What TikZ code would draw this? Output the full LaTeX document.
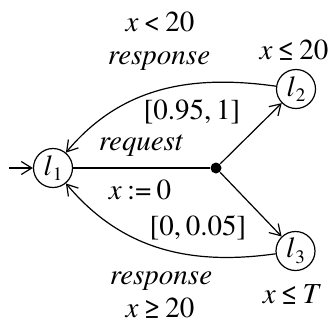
\documentclass[tikz,border=0pt]{standalone}
\usepackage{fontspec}
\setmainfont{texgyretermes}[Extension=.otf,UprightFont=*-regular,ItalicFont=*-italic,BoldFont=*-bold,BoldItalicFont=*-bolditalic]
\usetikzlibrary{arrows.meta}
\newcommand{\locname}[1]{\textit{l}\kern1pt\raisebox{-0.2em}{\fontsize{19}{21}\selectfont #1}}
\newcommand{\rel}[1]{\hspace{0.18em}#1\hspace{0.18em}}
\tikzset{
  locstate/.style={circle,draw,line width=1.2pt,minimum size=39pt,inner sep=0pt},
  lbl/.style={inner sep=0pt},
  tip/.style={-{Straight Barb[length=10.5pt,width=13pt,line width=1.2pt]}},
  joint/.style={circle,fill,inner sep=0pt,minimum size=11pt}
}
\begin{document}
\begin{tikzpicture}[x=1pt,y=1pt,line width=1.2pt,font=\fontsize{29}{34}\selectfont]
\useasboundingbox (0,0) rectangle (329,-325);
\node[locstate] (l1) at (53,-168) {\locname{1}};
\node[locstate] (l2) at (296,-89) {\locname{2}};
\node[locstate] (l3) at (295.5,-251) {\locname{3}};
\node[joint] (d) at (216,-168) {};
\coordinate (s) at (9,-168);
\draw[tip] (s) -- (l1);
\draw (l1) -- (d);
\draw[tip] (d) -- (l2);
\draw[tip] (d) -- (l3);
\draw[tip] (l2) to[out=172,in=50] (l1);
\draw[tip] (l3) to[out=188,in=-50] (l1);
\node[lbl] (g1) at (160,-22) {\textit{x}\rel{<}20};
\node[lbl] (r1) at (159,-61) {\textit{response}};
\node[lbl] (i2) at (294,-50) {\textit{x}\rel{≤}20};
\node[lbl] (p1) at (192,-112) {[0.95,\,1]};
\node[lbl] (rq) at (141,-146) {\textit{request}};
\node[lbl] (as) at (140,-190) {\textit{x}\rel{:=}0};
\node[lbl] (p2) at (198,-228) {[0,\,0.05]};
\node[lbl] (r2) at (161,-281) {\textit{response}};
\node[lbl] (g2) at (160,-308) {\textit{x}\rel{≥}20};
\node[lbl] (i3) at (292,-295) {\textit{x}\rel{≤}\textit{T}};
\end{tikzpicture}
\end{document}
